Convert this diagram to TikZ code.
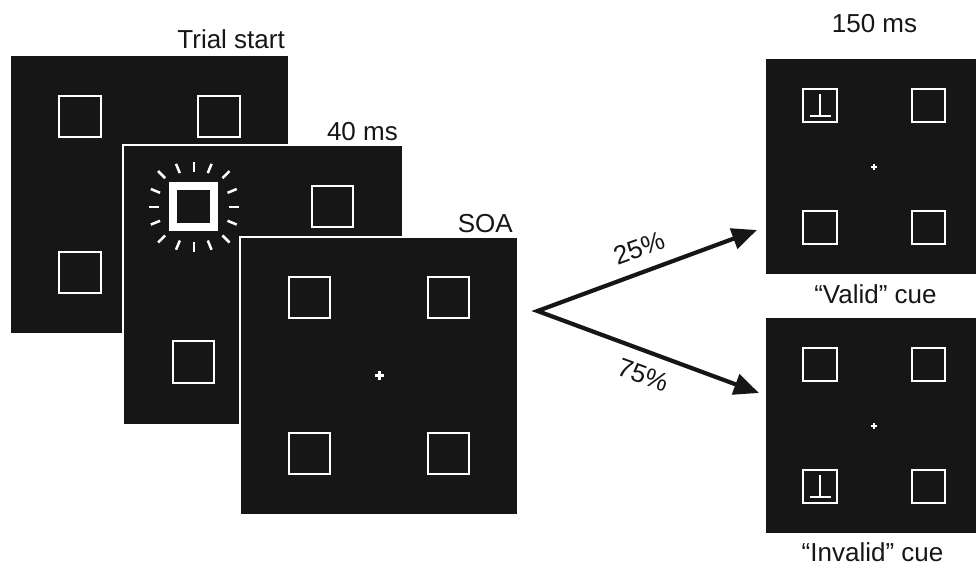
\documentclass[tikz,border=0pt]{standalone}
\usepackage{fontspec}
\setmainfont{Liberation Sans}
\usetikzlibrary{arrows.meta}
\definecolor{scr}{RGB}{22,22,22}
\definecolor{ink}{RGB}{22,22,22}
\tikzset{
  screen/.style={fill=scr, draw=white, line width=2pt, minimum size=#1, inner sep=0pt, outer sep=0pt},
  box/.style={draw=white, line width=2.4pt},
  sbox/.style={draw=white, line width=2pt},
  thickbox/.style={draw=white, line width=8pt},
  lbl/.style={font=\fontsize{26}{30}\selectfont, text=ink, inner sep=0pt},
  ray/.style={draw=white, line width=2.5pt},
  fix/.style={draw=white, line width=3pt},
  sfix/.style={draw=white, line width=2pt},
  prob/.style={draw=ink, line width=4.2pt, line join=miter,
    {Triangle[length=25pt,width=21pt]}-{Triangle[length=25pt,width=21pt]}},
  pics/sq/.style={code={\draw[box] (-20.75,-20.75) rectangle (20.75,20.75);}},
  pics/ssq/.style={code={\draw[sbox] (-16.75,-16.75) rectangle (16.75,16.75);}},
  pics/cross/.style={code={\draw[fix] (-4.5,0) -- (4.5,0) (0,-4.5) -- (0,4.5);}},
  pics/scross/.style={code={\draw[sfix] (-3,0) -- (3,0) (0,-3) -- (0,3);}},
  pics/tee/.style={code={\draw[sfix] (0,-11.5) -- (0,10.5) (-10.5,10.5) -- (10.5,10.5);}},
}
\begin{document}
\begin{tikzpicture}[x=1pt,y=-1pt]
\useasboundingbox (0,0) rectangle (976,565);
\clip (0,0) rectangle (976,565);

% Panel 1: trial start
\node[screen=279pt] (p1) at (149.5,194.5) {};
\pic at (80,116.5) {sq};
\pic at (219,116.5) {sq};
\pic at (80,272.5) {sq};
\pic at (219,272.5) {sq};
\node[lbl, anchor=base east] (tstart) at (285,48.3) {Trial start};

% Panel 2: 40 ms cue
\node[screen=280pt] (p2) at (263,284.5) {};
\draw[thickbox] (193.5-20.65,206.5-20.65) rectangle (193.5+20.65,206.5+20.65);
\foreach \a/\r in {0/35,22.5/36.5,45/40.5,67.5/36.5,90/35,112.5/36.5,135/40.5,157.5/36.5,
                   180/35,202.5/36.5,225/40.5,247.5/36.5,270/35,292.5/36.5,315/40.5,337.5/36.5}
  \draw[ray] (193.8,206.8) ++(\a:\r) -- ++(\a:10);
\pic at (332.5,206.5) {sq};
\pic at (193.5,362) {sq};
\pic at (332.5,362) {sq};
\node[lbl, anchor=base east] (t40) at (398,140) {40 ms};

% Panel 3: SOA
\node[screen=278pt] (p3) at (379,375.5) {};
\pic at (309.5,297.5) {sq};
\pic at (448.5,297.5) {sq};
\pic at (309.5,453.5) {sq};
\pic at (448.5,453.5) {sq};
\pic at (379.5,375.5) {cross};
\node[lbl, anchor=base east] (tsoa) at (513,232) {SOA};

% Right top: valid
\node[screen=217pt] (pv) at (873.5,166.5) {};
\pic at (820,105.5) {ssq};
\pic at (928.5,105.5) {ssq};
\pic at (820,227.5) {ssq};
\pic at (928.5,227.5) {ssq};
\pic at (820,105.5) {tee};
\pic at (874,167) {scross};
\node[lbl, anchor=base] (t150) at (874.5,32) {150 ms};
\node[lbl, anchor=base] (tvalid) at (875.5,303.3) {“Valid” cue};

% Right bottom: invalid
\node[screen=217pt] (pi) at (873.5,425.5) {};
\pic at (820,364.5) {ssq};
\pic at (928.5,364.5) {ssq};
\pic at (820,486.5) {ssq};
\pic at (928.5,486.5) {ssq};
\pic at (820,486.5) {tee};
\pic at (874,426) {scross};
\node[lbl, anchor=base] (tinvalid) at (872.5,561) {“Invalid” cue};

% Arrows
\coordinate (o) at (537.5,311);
\coordinate (t1) at (757,230);
\coordinate (t2) at (759,393);
\draw[prob] (t1) -- (o) -- (t2);
\node[lbl, rotate=20] (l25) at (639,248.5) {25\%};
\node[lbl, rotate=-20] (l75) at (643,375.5) {75\%};
\end{tikzpicture}
\end{document}
